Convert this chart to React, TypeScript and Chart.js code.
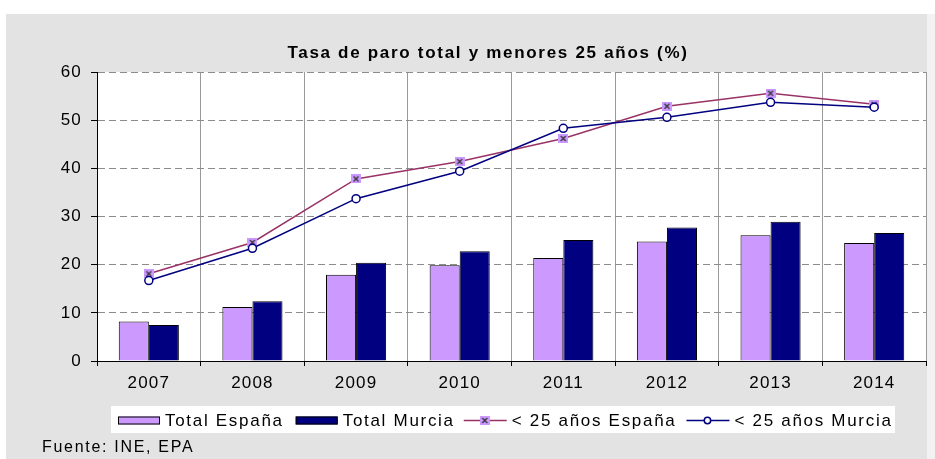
import React, { useEffect, useRef } from 'react';
import { Chart, registerables } from 'chart.js';

Chart.register(...registerables);

const years = ['2007', '2008', '2009', '2010', '2011', '2012', '2013', '2014'];
const totalEspana = [8.2, 11.2, 17.9, 19.9, 21.4, 24.8, 26.1, 24.5];
const totalMurcia = [7.5, 12.4, 20.4, 22.8, 25.1, 27.7, 28.9, 26.6];
const jovenesEspana = [18.1, 24.6, 37.8, 41.4, 46.2, 52.9, 55.6, 53.3];
const jovenesMurcia = [16.7, 23.4, 33.7, 39.4, 48.3, 50.6, 53.7, 52.7];
const yTicks = [0, 10, 20, 30, 40, 50, 60];

const titleText = 'Tasa de paro total y menores 25 años (%)';
const sourceText = 'Fuente: INE, EPA';
const labels = ['Total España', 'Total Murcia', '< 25 años España', '< 25 años Murcia'];

const W = 935;
const H = 459;
const FONT = '"Liberation Sans", Arial, sans-serif';
const TICK_SPACING = '1.2px';
const TEXT_SPACING = '1.7px';

function makeCrossSquare(): HTMLCanvasElement {
  const c = document.createElement('canvas');
  c.width = 10;
  c.height = 9;
  const g = c.getContext('2d')!;
  g.fillStyle = '#CC99FF';
  g.fillRect(0, 0, 10, 9);
  g.strokeStyle = '#333333';
  g.lineWidth = 1.3;
  g.beginPath();
  g.moveTo(2.5, 2);
  g.lineTo(7.5, 7);
  g.moveTo(7.5, 2);
  g.lineTo(2.5, 7);
  g.stroke();
  return c;
}

const legendGaps = [12, 9, 10, 0];

const decorPlugin = {
  id: 'decor',
  beforeDraw(chart: any) {
    const ctx = chart.ctx as CanvasRenderingContext2D;
    const a = chart.chartArea;
    ctx.save();
    ctx.fillStyle = '#ffffff';
    ctx.fillRect(0, 0, W, H);
    ctx.fillStyle = '#F2F2F2';
    ctx.fillRect(927, 14, W - 927, H - 14);
    ctx.fillStyle = '#E3E3E3';
    ctx.fillRect(6, 14, 921, H - 14);
    ctx.fillStyle = '#ffffff';
    ctx.fillRect(a.left, a.top, a.right - a.left, a.bottom - a.top);
    ctx.restore();
    (ctx as any).letterSpacing = TICK_SPACING;
  },
  afterDraw(chart: any) {
    const ctx = chart.ctx as CanvasRenderingContext2D;
    ctx.save();
    (ctx as any).letterSpacing = TEXT_SPACING;
    // title
    ctx.fillStyle = '#000';
    ctx.font = `bold 17px ${FONT}`;
    ctx.textAlign = 'center';
    ctx.textBaseline = 'middle';
    ctx.fillText(titleText, 488, 53);

    // legend box
    ctx.fillStyle = '#ffffff';
    ctx.fillRect(111, 406, 784, 27);
    ctx.font = `17px ${FONT}`;
    ctx.textAlign = 'left';
    ctx.textBaseline = 'middle';
    const cy = 420.5;
    const ds = chart.data.datasets;
    let x = 118;
    for (let i = 0; i < ds.length; i++) {
      const d = ds[i];
      if (d.type === 'bar') {
        ctx.fillStyle = d.backgroundColor;
        ctx.fillRect(x, cy - 4, 42, 8);
        ctx.strokeStyle = '#000';
        ctx.lineWidth = 1;
        ctx.strokeRect(x + 0.5, cy - 3.5, 41, 7);
        x += 47;
      } else {
        ctx.strokeStyle = d.borderColor;
        ctx.lineWidth = 1.5;
        ctx.beginPath();
        ctx.moveTo(x, cy);
        ctx.lineTo(x + 43, cy);
        ctx.stroke();
        const mx = x + 21;
        if (d.pointStyle === 'circle') {
          ctx.fillStyle = '#fff';
          ctx.beginPath();
          ctx.arc(mx, cy, 3.2, 0, Math.PI * 2);
          ctx.fill();
          ctx.stroke();
        } else {
          ctx.drawImage(d.pointStyle, mx - 5, cy - 4.5);
        }
        x += 48;
      }
      ctx.fillStyle = '#000';
      ctx.fillText(d.label, x, cy + 0.5);
      x += ctx.measureText(d.label).width + legendGaps[i];
    }

    // source
    ctx.fillStyle = '#000';
    ctx.font = `16px ${FONT}`;
    ctx.textBaseline = 'alphabetic';
    ctx.fillText(sourceText, 42, 452);
    ctx.restore();
  },
};

export default function App() {
  const ref = useRef<HTMLCanvasElement>(null);
  useEffect(() => {
    document.body.style.margin = '0';
    const canvas = ref.current!;
    const crossSquare = makeCrossSquare();
    const chart = new Chart(canvas, {
      type: 'bar',
      data: {
        labels: years,
        datasets: [
          {
            type: 'bar',
            label: labels[0],
            data: totalEspana,
            backgroundColor: '#CC99FF',
            borderColor: '#000000',
            borderWidth: 1,
            categoryPercentage: 0.58,
            barPercentage: 1,
            order: 2,
          } as any,
          {
            type: 'bar',
            label: labels[1],
            data: totalMurcia,
            backgroundColor: '#000080',
            borderColor: '#000000',
            borderWidth: 1,
            categoryPercentage: 0.58,
            barPercentage: 1,
            order: 2,
          } as any,
          {
            type: 'line',
            label: labels[2],
            data: jovenesEspana,
            borderColor: '#993366',
            borderWidth: 1.5,
            pointStyle: crossSquare,
            pointRadius: 5,
            tension: 0,
            order: 1,
          } as any,
          {
            type: 'line',
            label: labels[3],
            data: jovenesMurcia,
            borderColor: '#000080',
            borderWidth: 1.5,
            pointStyle: 'circle',
            pointRadius: 4,
            pointBackgroundColor: '#ffffff',
            pointBorderColor: '#000080',
            pointBorderWidth: 1.5,
            tension: 0,
            order: 0,
          } as any,
        ],
      },
      options: {
        responsive: false,
        animation: false,
        layout: { padding: { left: 0, right: 9, top: 72, bottom: 58 } },
        plugins: {
          legend: { display: false },
          title: { display: false },
          tooltip: { enabled: false },
        },
        scales: {
          x: {
            grid: {
              offset: true,
              color: '#999999',
              lineWidth: 1,
              tickColor: '#000',
              tickLength: 5,
            },
            border: { display: true, color: '#000', width: 1 },
            ticks: {
              color: '#000',
              font: { family: FONT, size: 17 },
              padding: 7,
            },
            afterFit: (s: any) => {
              s.height = 40;
            },
          },
          y: {
            min: 0,
            max: 60,
            afterBuildTicks: (s: any) => {
              s.ticks = yTicks.map((v) => ({ value: v }));
            },
            grid: {
              color: '#8C8C8C',
              lineWidth: 1,
              tickColor: '#000',
              tickLength: 6,
              tickBorderDash: [],
            },
            border: { display: true, color: '#000', width: 1, dash: [7, 4] },
            ticks: {
              color: '#000',
              font: { family: FONT, size: 17 },
              padding: 9,
            },
            afterFit: (s: any) => {
              s.width = 97;
            },
          },
        },
      },
      plugins: [decorPlugin],
    });
    return () => chart.destroy();
  }, []);
  return <canvas ref={ref} width={W} height={H} style={{ display: 'block' }} />;
}
